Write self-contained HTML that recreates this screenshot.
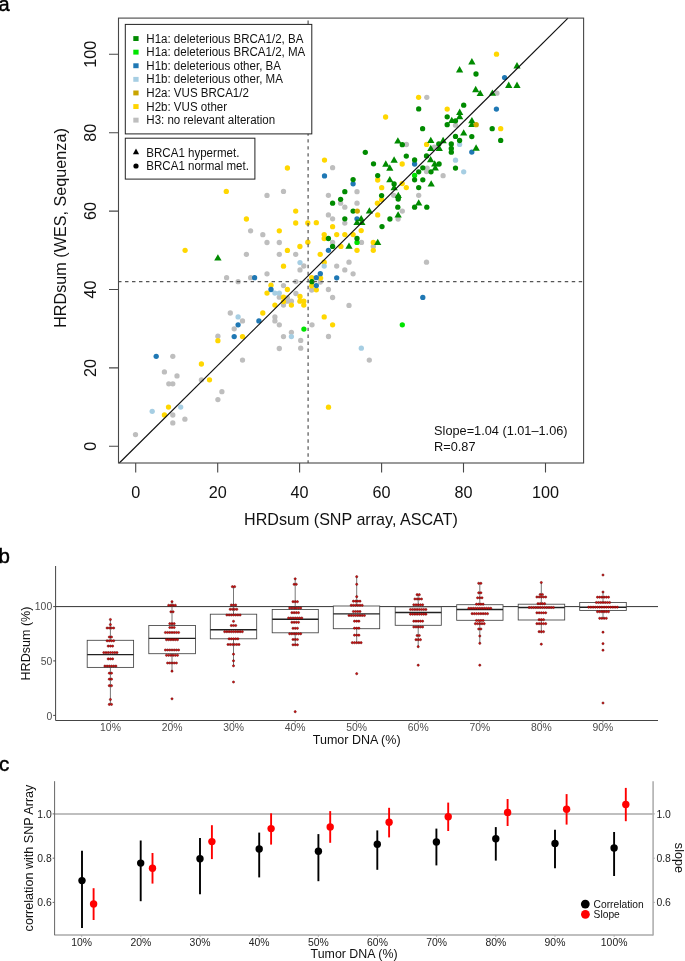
<!DOCTYPE html>
<html><head><meta charset="utf-8">
<style>
html,body{margin:0;padding:0;background:#fff;}
svg{display:block;font-family:"Liberation Sans",sans-serif;will-change:transform;}
</style></head>
<body>
<svg width="685" height="961" viewBox="0 0 685 961">
<rect width="685" height="961" fill="#fff"/>
<!-- ===== Panel a ===== -->
<text x="-1.6" y="10.7" font-size="20" fill="#000" stroke="#000" stroke-width="0.45">a</text>
<g id="pts">
<circle cx="496.9" cy="93.2" r="2.65" fill="#bebebe"/>
<circle cx="426.8" cy="97.3" r="2.65" fill="#bebebe"/>
<circle cx="455.5" cy="125.2" r="2.65" fill="#bebebe"/>
<circle cx="434.4" cy="147.2" r="2.65" fill="#bebebe"/>
<circle cx="427.1" cy="168.1" r="2.65" fill="#bebebe"/>
<circle cx="426.5" cy="171.6" r="2.65" fill="#bebebe"/>
<circle cx="443.1" cy="175.7" r="2.65" fill="#bebebe"/>
<circle cx="418.7" cy="195.3" r="2.65" fill="#bebebe"/>
<circle cx="406.4" cy="144.5" r="2.65" fill="#bebebe"/>
<circle cx="332.6" cy="167.7" r="2.65" fill="#bebebe"/>
<circle cx="357.0" cy="191.7" r="2.65" fill="#bebebe"/>
<circle cx="328.4" cy="195.3" r="2.65" fill="#bebebe"/>
<circle cx="393.7" cy="195.3" r="2.65" fill="#bebebe"/>
<circle cx="340.6" cy="203.2" r="2.65" fill="#bebebe"/>
<circle cx="357.0" cy="203.2" r="2.65" fill="#bebebe"/>
<circle cx="344.8" cy="207.2" r="2.65" fill="#bebebe"/>
<circle cx="402.3" cy="211.1" r="2.65" fill="#bebebe"/>
<circle cx="398.1" cy="219.0" r="2.65" fill="#bebebe"/>
<circle cx="328.4" cy="214.9" r="2.65" fill="#bebebe"/>
<circle cx="332.6" cy="218.8" r="2.65" fill="#bebebe"/>
<circle cx="344.8" cy="223.1" r="2.65" fill="#bebebe"/>
<circle cx="332.6" cy="242.4" r="2.65" fill="#bebebe"/>
<circle cx="361.5" cy="242.4" r="2.65" fill="#bebebe"/>
<circle cx="373.3" cy="246.4" r="2.65" fill="#bebebe"/>
<circle cx="349.0" cy="262.2" r="2.65" fill="#bebebe"/>
<circle cx="336.7" cy="266.1" r="2.65" fill="#bebebe"/>
<circle cx="426.5" cy="262.2" r="2.65" fill="#bebebe"/>
<circle cx="344.8" cy="269.9" r="2.65" fill="#bebebe"/>
<circle cx="353.1" cy="273.8" r="2.65" fill="#bebebe"/>
<circle cx="320.3" cy="282.0" r="2.65" fill="#bebebe"/>
<circle cx="311.7" cy="290.0" r="2.65" fill="#bebebe"/>
<circle cx="328.4" cy="289.5" r="2.65" fill="#bebebe"/>
<circle cx="332.6" cy="297.5" r="2.65" fill="#bebebe"/>
<circle cx="349.0" cy="305.4" r="2.65" fill="#bebebe"/>
<circle cx="312.0" cy="324.8" r="2.65" fill="#bebebe"/>
<circle cx="303.8" cy="266.0" r="2.65" fill="#bebebe"/>
<circle cx="300.0" cy="269.9" r="2.65" fill="#bebebe"/>
<circle cx="295.9" cy="281.6" r="2.65" fill="#bebebe"/>
<circle cx="295.9" cy="293.5" r="2.65" fill="#bebebe"/>
<circle cx="328.5" cy="336.5" r="2.65" fill="#bebebe"/>
<circle cx="300.7" cy="340.4" r="2.65" fill="#bebebe"/>
<circle cx="300.7" cy="348.2" r="2.65" fill="#bebebe"/>
<circle cx="369.3" cy="360.1" r="2.65" fill="#bebebe"/>
<circle cx="267.0" cy="195.4" r="2.65" fill="#bebebe"/>
<circle cx="283.5" cy="191.4" r="2.65" fill="#bebebe"/>
<circle cx="250.6" cy="230.8" r="2.65" fill="#bebebe"/>
<circle cx="262.8" cy="234.7" r="2.65" fill="#bebebe"/>
<circle cx="267.0" cy="242.5" r="2.65" fill="#bebebe"/>
<circle cx="279.3" cy="242.5" r="2.65" fill="#bebebe"/>
<circle cx="246.4" cy="254.3" r="2.65" fill="#bebebe"/>
<circle cx="279.3" cy="254.3" r="2.65" fill="#bebebe"/>
<circle cx="295.7" cy="254.3" r="2.65" fill="#bebebe"/>
<circle cx="267.0" cy="273.8" r="2.65" fill="#bebebe"/>
<circle cx="226.6" cy="277.7" r="2.65" fill="#bebebe"/>
<circle cx="250.6" cy="277.7" r="2.65" fill="#bebebe"/>
<circle cx="238.1" cy="281.7" r="2.65" fill="#bebebe"/>
<circle cx="283.5" cy="285.6" r="2.65" fill="#bebebe"/>
<circle cx="279.3" cy="297.2" r="2.65" fill="#bebebe"/>
<circle cx="287.4" cy="297.9" r="2.65" fill="#bebebe"/>
<circle cx="287.4" cy="301.2" r="2.65" fill="#bebebe"/>
<circle cx="291.4" cy="301.2" r="2.65" fill="#bebebe"/>
<circle cx="283.5" cy="305.1" r="2.65" fill="#bebebe"/>
<circle cx="230.3" cy="313.0" r="2.65" fill="#bebebe"/>
<circle cx="274.9" cy="316.9" r="2.65" fill="#bebebe"/>
<circle cx="242.5" cy="320.9" r="2.65" fill="#bebebe"/>
<circle cx="274.9" cy="320.9" r="2.65" fill="#bebebe"/>
<circle cx="279.3" cy="324.8" r="2.65" fill="#bebebe"/>
<circle cx="234.2" cy="328.8" r="2.65" fill="#bebebe"/>
<circle cx="291.4" cy="332.3" r="2.65" fill="#bebebe"/>
<circle cx="283.5" cy="336.6" r="2.65" fill="#bebebe"/>
<circle cx="279.3" cy="348.5" r="2.65" fill="#bebebe"/>
<circle cx="172.8" cy="356.3" r="2.65" fill="#bebebe"/>
<circle cx="164.4" cy="371.9" r="2.65" fill="#bebebe"/>
<circle cx="177.0" cy="375.9" r="2.65" fill="#bebebe"/>
<circle cx="168.8" cy="383.8" r="2.65" fill="#bebebe"/>
<circle cx="172.8" cy="383.8" r="2.65" fill="#bebebe"/>
<circle cx="201.4" cy="379.8" r="2.65" fill="#bebebe"/>
<circle cx="221.9" cy="391.7" r="2.65" fill="#bebebe"/>
<circle cx="217.9" cy="399.6" r="2.65" fill="#bebebe"/>
<circle cx="172.8" cy="415.0" r="2.65" fill="#bebebe"/>
<circle cx="184.9" cy="419.2" r="2.65" fill="#bebebe"/>
<circle cx="172.8" cy="422.9" r="2.65" fill="#bebebe"/>
<circle cx="135.5" cy="434.6" r="2.65" fill="#bebebe"/>
<circle cx="217.9" cy="336.2" r="2.65" fill="#bebebe"/>
<circle cx="242.5" cy="360.1" r="2.65" fill="#bebebe"/>
<circle cx="459.6" cy="144.4" r="2.65" fill="#a6cee3"/>
<circle cx="455.5" cy="160.2" r="2.65" fill="#a6cee3"/>
<circle cx="463.7" cy="171.8" r="2.65" fill="#a6cee3"/>
<circle cx="300.0" cy="262.6" r="2.65" fill="#a6cee3"/>
<circle cx="361.3" cy="348.2" r="2.65" fill="#a6cee3"/>
<circle cx="274.9" cy="293.1" r="2.65" fill="#a6cee3"/>
<circle cx="279.3" cy="293.1" r="2.65" fill="#a6cee3"/>
<circle cx="238.1" cy="316.9" r="2.65" fill="#a6cee3"/>
<circle cx="291.4" cy="336.6" r="2.65" fill="#a6cee3"/>
<circle cx="180.7" cy="407.1" r="2.65" fill="#a6cee3"/>
<circle cx="152.2" cy="411.3" r="2.65" fill="#a6cee3"/>
<circle cx="496.5" cy="54.2" r="2.65" fill="#ffd700"/>
<circle cx="418.6" cy="97.3" r="2.65" fill="#ffd700"/>
<circle cx="447.2" cy="109.1" r="2.65" fill="#ffd700"/>
<circle cx="500.7" cy="128.7" r="2.65" fill="#ffd700"/>
<circle cx="426.6" cy="144.4" r="2.65" fill="#ffd700"/>
<circle cx="402.2" cy="164.0" r="2.65" fill="#ffd700"/>
<circle cx="402.2" cy="183.6" r="2.65" fill="#ffd700"/>
<circle cx="406.3" cy="187.6" r="2.65" fill="#ffd700"/>
<circle cx="385.6" cy="117.0" r="2.65" fill="#ffd700"/>
<circle cx="324.5" cy="160.1" r="2.65" fill="#ffd700"/>
<circle cx="377.7" cy="180.0" r="2.65" fill="#ffd700"/>
<circle cx="381.7" cy="187.7" r="2.65" fill="#ffd700"/>
<circle cx="381.6" cy="199.7" r="2.65" fill="#ffd700"/>
<circle cx="377.4" cy="203.2" r="2.65" fill="#ffd700"/>
<circle cx="377.7" cy="214.9" r="2.65" fill="#ffd700"/>
<circle cx="316.3" cy="222.7" r="2.65" fill="#ffd700"/>
<circle cx="332.6" cy="226.7" r="2.65" fill="#ffd700"/>
<circle cx="361.2" cy="230.6" r="2.65" fill="#ffd700"/>
<circle cx="324.2" cy="234.6" r="2.65" fill="#ffd700"/>
<circle cx="336.7" cy="234.6" r="2.65" fill="#ffd700"/>
<circle cx="344.8" cy="234.6" r="2.65" fill="#ffd700"/>
<circle cx="353.1" cy="234.6" r="2.65" fill="#ffd700"/>
<circle cx="324.2" cy="238.5" r="2.65" fill="#ffd700"/>
<circle cx="373.3" cy="242.4" r="2.65" fill="#ffd700"/>
<circle cx="340.9" cy="246.4" r="2.65" fill="#ffd700"/>
<circle cx="357.0" cy="250.3" r="2.65" fill="#ffd700"/>
<circle cx="373.3" cy="250.3" r="2.65" fill="#ffd700"/>
<circle cx="320.2" cy="254.3" r="2.65" fill="#ffd700"/>
<circle cx="324.2" cy="262.2" r="2.65" fill="#ffd700"/>
<circle cx="320.6" cy="278.1" r="2.65" fill="#ffd700"/>
<circle cx="311.7" cy="277.6" r="2.65" fill="#ffd700"/>
<circle cx="311.7" cy="285.8" r="2.65" fill="#ffd700"/>
<circle cx="316.3" cy="289.8" r="2.65" fill="#ffd700"/>
<circle cx="324.2" cy="316.9" r="2.65" fill="#ffd700"/>
<circle cx="332.6" cy="324.8" r="2.65" fill="#ffd700"/>
<circle cx="300.0" cy="296.5" r="2.65" fill="#ffd700"/>
<circle cx="328.5" cy="407.2" r="2.65" fill="#ffd700"/>
<circle cx="226.3" cy="191.4" r="2.65" fill="#ffd700"/>
<circle cx="295.7" cy="211.1" r="2.65" fill="#ffd700"/>
<circle cx="246.4" cy="219.0" r="2.65" fill="#ffd700"/>
<circle cx="295.7" cy="223.0" r="2.65" fill="#ffd700"/>
<circle cx="307.8" cy="223.0" r="2.65" fill="#ffd700"/>
<circle cx="279.3" cy="230.8" r="2.65" fill="#ffd700"/>
<circle cx="307.8" cy="242.2" r="2.65" fill="#ffd700"/>
<circle cx="299.9" cy="246.5" r="2.65" fill="#ffd700"/>
<circle cx="287.4" cy="250.4" r="2.65" fill="#ffd700"/>
<circle cx="283.5" cy="266.2" r="2.65" fill="#ffd700"/>
<circle cx="271.0" cy="285.2" r="2.65" fill="#ffd700"/>
<circle cx="287.4" cy="289.5" r="2.65" fill="#ffd700"/>
<circle cx="267.0" cy="293.1" r="2.65" fill="#ffd700"/>
<circle cx="283.5" cy="297.2" r="2.65" fill="#ffd700"/>
<circle cx="283.5" cy="301.6" r="2.65" fill="#ffd700"/>
<circle cx="299.9" cy="301.2" r="2.65" fill="#ffd700"/>
<circle cx="303.8" cy="301.2" r="2.65" fill="#ffd700"/>
<circle cx="274.9" cy="305.1" r="2.65" fill="#ffd700"/>
<circle cx="291.4" cy="305.1" r="2.65" fill="#ffd700"/>
<circle cx="303.8" cy="305.1" r="2.65" fill="#ffd700"/>
<circle cx="262.8" cy="313.0" r="2.65" fill="#ffd700"/>
<circle cx="242.5" cy="336.6" r="2.65" fill="#ffd700"/>
<circle cx="217.9" cy="340.7" r="2.65" fill="#ffd700"/>
<circle cx="201.4" cy="364.0" r="2.65" fill="#ffd700"/>
<circle cx="209.5" cy="379.8" r="2.65" fill="#ffd700"/>
<circle cx="168.5" cy="407.1" r="2.65" fill="#ffd700"/>
<circle cx="164.4" cy="415.0" r="2.65" fill="#ffd700"/>
<circle cx="185.1" cy="250.3" r="2.65" fill="#ffd700"/>
<circle cx="287.4" cy="168.0" r="2.65" fill="#ffd700"/>
<circle cx="504.6" cy="77.6" r="2.65" fill="#1f78b4"/>
<circle cx="471.8" cy="152.1" r="2.65" fill="#1f78b4"/>
<circle cx="496.4" cy="109.1" r="2.65" fill="#1f78b4"/>
<circle cx="414.6" cy="164.0" r="2.65" fill="#1f78b4"/>
<circle cx="324.5" cy="175.9" r="2.65" fill="#1f78b4"/>
<circle cx="353.1" cy="183.8" r="2.65" fill="#1f78b4"/>
<circle cx="357.0" cy="218.8" r="2.65" fill="#1f78b4"/>
<circle cx="328.4" cy="250.3" r="2.65" fill="#1f78b4"/>
<circle cx="422.8" cy="297.4" r="2.65" fill="#1f78b4"/>
<circle cx="320.3" cy="273.7" r="2.65" fill="#1f78b4"/>
<circle cx="316.3" cy="277.7" r="2.65" fill="#1f78b4"/>
<circle cx="336.7" cy="277.8" r="2.65" fill="#1f78b4"/>
<circle cx="316.3" cy="285.6" r="2.65" fill="#1f78b4"/>
<circle cx="254.6" cy="277.7" r="2.65" fill="#1f78b4"/>
<circle cx="271.0" cy="289.5" r="2.65" fill="#1f78b4"/>
<circle cx="258.9" cy="320.9" r="2.65" fill="#1f78b4"/>
<circle cx="238.1" cy="324.8" r="2.65" fill="#1f78b4"/>
<circle cx="234.2" cy="336.6" r="2.65" fill="#1f78b4"/>
<circle cx="156.2" cy="356.3" r="2.65" fill="#1f78b4"/>
<circle cx="414.6" cy="175.5" r="2.65" fill="#00e400"/>
<circle cx="357.0" cy="242.4" r="2.65" fill="#00e400"/>
<circle cx="402.3" cy="324.8" r="2.65" fill="#00e400"/>
<circle cx="303.9" cy="329.1" r="2.65" fill="#00e400"/>
<path d="M471.9 58.1L475.5 64.4H468.2Z" fill="#008b00"/>
<path d="M459.6 66.0L463.2 72.4H456.0Z" fill="#008b00"/>
<path d="M517.0 62.1L520.6 68.4H513.4Z" fill="#008b00"/>
<circle cx="476.0" cy="74.0" r="2.65" fill="#008b00"/>
<path d="M508.7 81.5L512.4 87.9H505.1Z" fill="#008b00"/>
<path d="M517.0 81.5L520.6 87.9H513.4Z" fill="#008b00"/>
<path d="M475.7 85.8L479.3 92.2H472.1Z" fill="#008b00"/>
<path d="M480.2 89.8L483.8 96.1H476.6Z" fill="#008b00"/>
<path d="M492.4 89.4L496.0 95.8H488.8Z" fill="#008b00"/>
<circle cx="418.7" cy="108.9" r="2.65" fill="#008b00"/>
<circle cx="463.7" cy="105.2" r="2.65" fill="#008b00"/>
<path d="M459.7 108.6L463.3 115.0H456.1Z" fill="#008b00"/>
<path d="M459.7 112.9L463.3 119.2H456.1Z" fill="#008b00"/>
<circle cx="447.2" cy="116.8" r="2.65" fill="#008b00"/>
<path d="M451.8 116.8L455.4 123.1H448.2Z" fill="#008b00"/>
<circle cx="455.5" cy="120.8" r="2.65" fill="#008b00"/>
<circle cx="447.2" cy="124.7" r="2.65" fill="#008b00"/>
<path d="M471.9 116.9L475.5 123.2H468.2Z" fill="#008b00"/>
<path d="M471.9 120.8L475.5 127.1H468.2Z" fill="#008b00"/>
<circle cx="422.6" cy="128.7" r="2.65" fill="#008b00"/>
<circle cx="492.2" cy="128.7" r="2.65" fill="#008b00"/>
<path d="M463.7 129.2L467.3 135.5H460.1Z" fill="#008b00"/>
<circle cx="455.5" cy="136.4" r="2.65" fill="#008b00"/>
<circle cx="471.8" cy="136.6" r="2.65" fill="#008b00"/>
<circle cx="459.6" cy="140.5" r="2.65" fill="#008b00"/>
<circle cx="500.7" cy="140.4" r="2.65" fill="#008b00"/>
<path d="M430.8 136.8L434.4 143.1H427.2Z" fill="#008b00"/>
<path d="M443.1 136.8L446.8 143.2H439.5Z" fill="#008b00"/>
<circle cx="438.8" cy="144.0" r="2.65" fill="#008b00"/>
<circle cx="451.3" cy="144.0" r="2.65" fill="#008b00"/>
<path d="M430.8 144.8L434.4 151.1H427.2Z" fill="#008b00"/>
<path d="M439.3 144.8L442.9 151.1H435.7Z" fill="#008b00"/>
<circle cx="451.3" cy="148.4" r="2.65" fill="#008b00"/>
<circle cx="451.3" cy="152.2" r="2.65" fill="#008b00"/>
<path d="M476.1 144.3L479.8 150.7H472.5Z" fill="#008b00"/>
<circle cx="426.5" cy="155.9" r="2.65" fill="#008b00"/>
<circle cx="406.3" cy="156.1" r="2.65" fill="#008b00"/>
<circle cx="414.6" cy="159.9" r="2.65" fill="#008b00"/>
<path d="M430.6 155.9L434.2 162.2H427.0Z" fill="#008b00"/>
<path d="M434.7 160.2L438.3 166.6H431.1Z" fill="#008b00"/>
<circle cx="439.1" cy="164.0" r="2.65" fill="#008b00"/>
<path d="M435.3 164.2L438.9 170.5H431.7Z" fill="#008b00"/>
<circle cx="422.8" cy="167.8" r="2.65" fill="#008b00"/>
<circle cx="418.7" cy="171.8" r="2.65" fill="#008b00"/>
<circle cx="431.0" cy="171.8" r="2.65" fill="#008b00"/>
<circle cx="414.6" cy="179.8" r="2.65" fill="#008b00"/>
<circle cx="422.8" cy="179.8" r="2.65" fill="#008b00"/>
<path d="M431.2 180.2L434.8 186.5H427.6Z" fill="#008b00"/>
<circle cx="418.7" cy="187.6" r="2.65" fill="#008b00"/>
<path d="M418.7 199.2L422.3 205.5H415.1Z" fill="#008b00"/>
<circle cx="414.6" cy="207.2" r="2.65" fill="#008b00"/>
<circle cx="426.8" cy="207.2" r="2.65" fill="#008b00"/>
<circle cx="455.5" cy="168.1" r="2.65" fill="#008b00"/>
<path d="M397.9 137.2L401.5 143.6H394.2Z" fill="#008b00"/>
<circle cx="402.3" cy="144.7" r="2.65" fill="#008b00"/>
<circle cx="365.3" cy="152.3" r="2.65" fill="#008b00"/>
<path d="M394.1 156.3L397.8 162.7H390.5Z" fill="#008b00"/>
<circle cx="373.5" cy="163.8" r="2.65" fill="#008b00"/>
<path d="M385.8 160.3L389.4 166.7H382.2Z" fill="#008b00"/>
<path d="M389.8 164.3L393.4 170.7H386.2Z" fill="#008b00"/>
<circle cx="377.7" cy="175.6" r="2.65" fill="#008b00"/>
<path d="M389.8 176.0L393.4 182.3H386.2Z" fill="#008b00"/>
<circle cx="394.1" cy="183.9" r="2.65" fill="#008b00"/>
<path d="M394.1 184.0L397.8 190.3H390.5Z" fill="#008b00"/>
<circle cx="353.1" cy="179.6" r="2.65" fill="#008b00"/>
<circle cx="344.8" cy="191.7" r="2.65" fill="#008b00"/>
<circle cx="381.6" cy="195.6" r="2.65" fill="#008b00"/>
<path d="M398.3 191.7L401.9 198.0H394.7Z" fill="#008b00"/>
<circle cx="398.3" cy="197.0" r="2.65" fill="#008b00"/>
<circle cx="398.2" cy="199.0" r="2.65" fill="#008b00"/>
<circle cx="340.6" cy="199.3" r="2.65" fill="#008b00"/>
<circle cx="332.6" cy="203.2" r="2.65" fill="#008b00"/>
<circle cx="353.1" cy="211.1" r="2.65" fill="#008b00"/>
<path d="M369.4 207.2L373.0 213.6H365.8Z" fill="#008b00"/>
<circle cx="397.8" cy="207.2" r="2.65" fill="#008b00"/>
<path d="M398.1 211.2L401.8 217.6H394.5Z" fill="#008b00"/>
<circle cx="389.9" cy="219.0" r="2.65" fill="#008b00"/>
<circle cx="382.0" cy="226.6" r="2.65" fill="#008b00"/>
<circle cx="344.8" cy="218.8" r="2.65" fill="#008b00"/>
<path d="M361.2 214.9L364.8 221.2H357.6Z" fill="#008b00"/>
<path d="M357.0 218.7L360.6 225.0H353.4Z" fill="#008b00"/>
<path d="M361.9 218.7L365.5 225.0H358.2Z" fill="#008b00"/>
<circle cx="328.4" cy="238.5" r="2.65" fill="#008b00"/>
<circle cx="357.0" cy="238.5" r="2.65" fill="#008b00"/>
<path d="M377.7 238.7L381.3 245.0H374.1Z" fill="#008b00"/>
<circle cx="332.6" cy="246.4" r="2.65" fill="#008b00"/>
<path d="M349.0 242.5L352.6 248.8H345.4Z" fill="#008b00"/>
<circle cx="311.9" cy="281.7" r="2.65" fill="#008b00"/>
<path d="M217.9 254.2L221.6 260.4H214.2Z" fill="#008b00"/>
<circle cx="476.2" cy="124.7" r="2.65" fill="#d0ab00"/>
<circle cx="357.3" cy="211.1" r="2.65" fill="#d0ab00"/>
<circle cx="324.2" cy="266.1" r="2.65" fill="#a6cee3"/>
</g><!--/pts-->
<g id="a-frame" fill="none" stroke="#222" stroke-width="1.1">
<!-- dashed -->
<line x1="308.1" y1="463" x2="308.1" y2="18.1" stroke="#555" stroke-width="1.2" stroke-dasharray="3.45 3.53" stroke-dashoffset="0.7"/>
<line x1="118.05" y1="281.7" x2="583.6" y2="281.7" stroke="#555" stroke-width="1.2" stroke-dasharray="3.45 3.53"/>
</g>
<g fill="none" stroke="#484848" stroke-width="1.1">
<line x1="119.3" y1="463" x2="568" y2="18.1" stroke="#111" stroke-width="1.15"/>
<rect x="118.5" y="18.1" width="465.1" height="444.9"/>
<path d="M135.7 463v9.5M217.7 463v9.5M299.6 463v9.5M381.6 463v9.5M463.5 463v9.5M545.5 463v9.5"/>
<path d="M118.5 446.3h-9.5M118.5 367.9h-9.5M118.5 289.5h-9.5M118.5 211.1h-9.5M118.5 132.7h-9.5M118.5 54.3h-9.5"/>
</g>
<g font-size="16.2" fill="#111" text-anchor="middle">
<text x="135.7" y="497.9">0</text>
<text x="217.7" y="497.9">20</text>
<text x="299.6" y="497.9">40</text>
<text x="381.6" y="497.9">60</text>
<text x="463.5" y="497.9">80</text>
<text x="545.5" y="497.9">100</text>
<text transform="translate(95.6 446.3) rotate(-90)">0</text>
<text transform="translate(95.6 367.9) rotate(-90)">20</text>
<text transform="translate(95.6 289.5) rotate(-90)">40</text>
<text transform="translate(95.6 211.1) rotate(-90)">60</text>
<text transform="translate(95.6 132.7) rotate(-90)">80</text>
<text transform="translate(95.6 54.3) rotate(-90)">100</text>
</g>
<text x="350.9" y="524.5" font-size="16.1" fill="#111" text-anchor="middle">HRDsum (SNP array, ASCAT)</text>
<text transform="translate(66 228) rotate(-90)" font-size="16.2" fill="#111" text-anchor="middle">HRDsum (WES, Sequenza)</text>
<g font-size="12.75" fill="#111">
<text transform="translate(434.1 435.1) scale(1 1.07)">Slope=1.04 (1.01–1.06)</text>
<text transform="translate(434.1 451) scale(1 1.05)">R=0.87</text>
</g>
<!-- legends -->
<g fill="#fff" stroke="#222" stroke-width="1">
<rect x="125.3" y="24.4" width="186.5" height="109.5"/>
<rect x="125.3" y="138.2" width="129.6" height="40.9"/>
</g>
<g font-size="11.55" fill="#111">
<text transform="translate(146.3 42.6) scale(1 1.1)">H1a: deleterious BRCA1/2, BA</text>
<text transform="translate(146.3 56.2) scale(1 1.1)">H1a: deleterious BRCA1/2, MA</text>
<text transform="translate(146.3 69.8) scale(1 1.1)">H1b: deleterious other, BA</text>
<text transform="translate(146.3 83.4) scale(1 1.1)">H1b: deleterious other, MA</text>
<text transform="translate(146.3 97.0) scale(1 1.1)">H2a: VUS BRCA1/2</text>
<text transform="translate(146.3 110.6) scale(1 1.1)">H2b: VUS other</text>
<text transform="translate(146.3 124.2) scale(1 1.1)">H3: no relevant alteration</text>
<text transform="translate(146.3 156.6) scale(1 1.08)">BRCA1 hypermet.</text>
<text transform="translate(146.3 170) scale(1 1.08)">BRCA1 normal met.</text>
</g>
<g>
<rect x="133.3" y="36.1" width="5.3" height="4.9" fill="#008a00"/>
<rect x="133.3" y="49.7" width="5.3" height="4.9" fill="#00e600"/>
<rect x="133.3" y="63.3" width="5.3" height="4.9" fill="#1f78b4"/>
<rect x="133.3" y="76.9" width="5.3" height="4.9" fill="#a6cee3"/>
<rect x="133.3" y="90.5" width="5.3" height="4.9" fill="#c9a400"/>
<rect x="133.3" y="104.1" width="5.3" height="4.9" fill="#ffd400"/>
<rect x="133.3" y="117.7" width="5.3" height="4.9" fill="#bebebe"/>
<path d="M136 148.6l3.1 5.6h-6.2z" fill="#000"/>
<circle cx="136" cy="166" r="2.6" fill="#000"/>
</g>

<!-- ===== Panel b ===== -->
<text x="-1.5" y="563" font-size="20.5" fill="#000" stroke="#000" stroke-width="0.45">b</text>
<g stroke="#444" stroke-width="1" fill="none">
<line x1="55.6" y1="566" x2="55.6" y2="720.5"/>
<line x1="55.6" y1="720.5" x2="658" y2="720.5"/>
<line x1="55.6" y1="606.6" x2="658" y2="606.6" stroke="#333"/>
<path d="M53.2 715.4h2.4M53.2 660.9h2.4M53.2 606.6h2.4"/>
<path d="M110.5 720.5v2M172.05 720.5v2M233.6 720.5v2M295.15 720.5v2M356.7 720.5v2M418.25 720.5v2M479.8 720.5v2M541.35 720.5v2M602.9 720.5v2" stroke="#777"/>
</g>
<g font-size="10.4" fill="#4d4d4d" text-anchor="end">
<text x="52.2" y="719.7">0</text>
<text x="52.2" y="665">50</text>
<text x="52.2" y="610.3">100</text>
</g>
<g font-size="10.4" fill="#4d4d4d" text-anchor="middle">
<text x="110.5" y="731">10%</text>
<text x="172.05" y="731">20%</text>
<text x="233.6" y="731">30%</text>
<text x="295.15" y="731">40%</text>
<text x="356.7" y="731">50%</text>
<text x="418.25" y="731">60%</text>
<text x="479.8" y="731">70%</text>
<text x="541.35" y="731">80%</text>
<text x="602.9" y="731">90%</text>
</g>
<text x="356.7" y="743.7" font-size="12.5" fill="#111" text-anchor="middle">Tumor DNA (%)</text>
<text transform="translate(30.2 643.5) rotate(-90)" font-size="12.55" fill="#111" text-anchor="middle">HRDsum (%)</text>
<g id="boxes">
<line x1="110.4" y1="619.5" x2="110.4" y2="704.4" stroke="#555" stroke-width="0.8"/>
<rect x="87.2" y="640.3" width="46.4" height="27.1" fill="#fff" stroke="#444" stroke-width="0.85"/>
<line x1="87.2" y1="654.6" x2="133.6" y2="654.6" stroke="#222" stroke-width="1.35"/>
<line x1="172.0" y1="601.7" x2="172.0" y2="671.2" stroke="#555" stroke-width="0.8"/>
<rect x="148.8" y="625.5" width="46.7" height="28.2" fill="#fff" stroke="#444" stroke-width="0.85"/>
<line x1="148.8" y1="638.3" x2="195.5" y2="638.3" stroke="#222" stroke-width="1.35"/>
<line x1="233.5" y1="586.7" x2="233.5" y2="665.8" stroke="#555" stroke-width="0.8"/>
<rect x="210.3" y="614.2" width="46.4" height="24.6" fill="#fff" stroke="#444" stroke-width="0.85"/>
<line x1="210.3" y1="629.7" x2="256.7" y2="629.7" stroke="#222" stroke-width="1.35"/>
<line x1="295.2" y1="578.8" x2="295.2" y2="645.0" stroke="#555" stroke-width="0.8"/>
<rect x="272.2" y="609.5" width="46.1" height="23.3" fill="#fff" stroke="#444" stroke-width="0.85"/>
<line x1="272.2" y1="619.2" x2="318.3" y2="619.2" stroke="#222" stroke-width="1.35"/>
<line x1="356.7" y1="576.7" x2="356.7" y2="642.8" stroke="#555" stroke-width="0.8"/>
<rect x="333.3" y="606.0" width="46.4" height="22.7" fill="#fff" stroke="#444" stroke-width="0.85"/>
<line x1="333.3" y1="613.8" x2="379.7" y2="613.8" stroke="#222" stroke-width="1.35"/>
<line x1="418.2" y1="594.7" x2="418.2" y2="646.7" stroke="#555" stroke-width="0.8"/>
<rect x="395.2" y="606.9" width="46.1" height="18.4" fill="#fff" stroke="#444" stroke-width="0.85"/>
<line x1="395.2" y1="612.5" x2="441.3" y2="612.5" stroke="#222" stroke-width="1.35"/>
<line x1="479.8" y1="583.3" x2="479.8" y2="643.3" stroke="#555" stroke-width="0.8"/>
<rect x="456.7" y="604.7" width="46.3" height="15.6" fill="#fff" stroke="#444" stroke-width="0.85"/>
<line x1="456.7" y1="609.5" x2="503.0" y2="609.5" stroke="#222" stroke-width="1.35"/>
<line x1="541.3" y1="582.5" x2="541.3" y2="633.3" stroke="#555" stroke-width="0.8"/>
<rect x="518.2" y="604.2" width="46.5" height="15.8" fill="#fff" stroke="#444" stroke-width="0.85"/>
<line x1="518.2" y1="607.5" x2="564.7" y2="607.5" stroke="#222" stroke-width="1.35"/>
<line x1="603.0" y1="592.0" x2="603.0" y2="618.3" stroke="#555" stroke-width="0.8"/>
<rect x="579.7" y="602.5" width="46.6" height="8.0" fill="#fff" stroke="#444" stroke-width="0.85"/>
<line x1="579.7" y1="607.2" x2="626.3" y2="607.2" stroke="#222" stroke-width="1.35"/>
</g>
<g id="bdots" fill="#d81010" stroke="#5a0000" stroke-width="0.5">
<circle cx="110.40" cy="619.5" r="1.1"/>
<circle cx="110.40" cy="624.6" r="1.1"/>
<circle cx="107.10" cy="628" r="1.1"/>
<circle cx="109.30" cy="628" r="1.1"/>
<circle cx="111.50" cy="628" r="1.1"/>
<circle cx="113.70" cy="628" r="1.1"/>
<circle cx="109.30" cy="637" r="1.1"/>
<circle cx="111.50" cy="637" r="1.1"/>
<circle cx="107.10" cy="640.8" r="1.1"/>
<circle cx="109.30" cy="640.8" r="1.1"/>
<circle cx="111.50" cy="640.8" r="1.1"/>
<circle cx="113.70" cy="640.8" r="1.1"/>
<circle cx="108.20" cy="646.1" r="1.1"/>
<circle cx="110.40" cy="646.1" r="1.1"/>
<circle cx="112.60" cy="646.1" r="1.1"/>
<circle cx="103.80" cy="652.6" r="1.1"/>
<circle cx="106.00" cy="652.6" r="1.1"/>
<circle cx="108.20" cy="652.6" r="1.1"/>
<circle cx="110.40" cy="652.6" r="1.1"/>
<circle cx="112.60" cy="652.6" r="1.1"/>
<circle cx="114.80" cy="652.6" r="1.1"/>
<circle cx="117.00" cy="652.6" r="1.1"/>
<circle cx="108.20" cy="658.9" r="1.1"/>
<circle cx="110.40" cy="658.9" r="1.1"/>
<circle cx="112.60" cy="658.9" r="1.1"/>
<circle cx="104.90" cy="666.1" r="1.1"/>
<circle cx="107.10" cy="666.1" r="1.1"/>
<circle cx="109.30" cy="666.1" r="1.1"/>
<circle cx="111.50" cy="666.1" r="1.1"/>
<circle cx="113.70" cy="666.1" r="1.1"/>
<circle cx="115.90" cy="666.1" r="1.1"/>
<circle cx="109.30" cy="673.2" r="1.1"/>
<circle cx="111.50" cy="673.2" r="1.1"/>
<circle cx="109.30" cy="679.2" r="1.1"/>
<circle cx="111.50" cy="679.2" r="1.1"/>
<circle cx="109.30" cy="685.7" r="1.1"/>
<circle cx="111.50" cy="685.7" r="1.1"/>
<circle cx="110.40" cy="699.5" r="1.1"/>
<circle cx="109.30" cy="704.4" r="1.1"/>
<circle cx="111.50" cy="704.4" r="1.1"/>
<circle cx="172.00" cy="601.7" r="1.1"/>
<circle cx="168.70" cy="605.3" r="1.1"/>
<circle cx="170.90" cy="605.3" r="1.1"/>
<circle cx="173.10" cy="605.3" r="1.1"/>
<circle cx="175.30" cy="605.3" r="1.1"/>
<circle cx="170.90" cy="611.8" r="1.1"/>
<circle cx="173.10" cy="611.8" r="1.1"/>
<circle cx="169.80" cy="623.7" r="1.1"/>
<circle cx="172.00" cy="623.7" r="1.1"/>
<circle cx="174.20" cy="623.7" r="1.1"/>
<circle cx="169.80" cy="627.5" r="1.1"/>
<circle cx="172.00" cy="627.5" r="1.1"/>
<circle cx="174.20" cy="627.5" r="1.1"/>
<circle cx="165.40" cy="632.5" r="1.1"/>
<circle cx="167.60" cy="632.5" r="1.1"/>
<circle cx="169.80" cy="632.5" r="1.1"/>
<circle cx="172.00" cy="632.5" r="1.1"/>
<circle cx="174.20" cy="632.5" r="1.1"/>
<circle cx="176.40" cy="632.5" r="1.1"/>
<circle cx="178.60" cy="632.5" r="1.1"/>
<circle cx="166.50" cy="639.7" r="1.1"/>
<circle cx="168.70" cy="639.7" r="1.1"/>
<circle cx="170.90" cy="639.7" r="1.1"/>
<circle cx="173.10" cy="639.7" r="1.1"/>
<circle cx="175.30" cy="639.7" r="1.1"/>
<circle cx="177.50" cy="639.7" r="1.1"/>
<circle cx="165.40" cy="650" r="1.1"/>
<circle cx="167.60" cy="650" r="1.1"/>
<circle cx="169.80" cy="650" r="1.1"/>
<circle cx="172.00" cy="650" r="1.1"/>
<circle cx="174.20" cy="650" r="1.1"/>
<circle cx="176.40" cy="650" r="1.1"/>
<circle cx="178.60" cy="650" r="1.1"/>
<circle cx="166.50" cy="655.3" r="1.1"/>
<circle cx="168.70" cy="655.3" r="1.1"/>
<circle cx="170.90" cy="655.3" r="1.1"/>
<circle cx="173.10" cy="655.3" r="1.1"/>
<circle cx="175.30" cy="655.3" r="1.1"/>
<circle cx="177.50" cy="655.3" r="1.1"/>
<circle cx="167.60" cy="663" r="1.1"/>
<circle cx="169.80" cy="663" r="1.1"/>
<circle cx="172.00" cy="663" r="1.1"/>
<circle cx="174.20" cy="663" r="1.1"/>
<circle cx="176.40" cy="663" r="1.1"/>
<circle cx="172.00" cy="671.2" r="1.1"/>
<circle cx="172.00" cy="698.8" r="1.1"/>
<circle cx="232.40" cy="586.7" r="1.1"/>
<circle cx="234.60" cy="586.7" r="1.1"/>
<circle cx="231.30" cy="605" r="1.1"/>
<circle cx="233.50" cy="605" r="1.1"/>
<circle cx="235.70" cy="605" r="1.1"/>
<circle cx="230.20" cy="609.3" r="1.1"/>
<circle cx="232.40" cy="609.3" r="1.1"/>
<circle cx="234.60" cy="609.3" r="1.1"/>
<circle cx="236.80" cy="609.3" r="1.1"/>
<circle cx="226.90" cy="615" r="1.1"/>
<circle cx="229.10" cy="615" r="1.1"/>
<circle cx="231.30" cy="615" r="1.1"/>
<circle cx="233.50" cy="615" r="1.1"/>
<circle cx="235.70" cy="615" r="1.1"/>
<circle cx="237.90" cy="615" r="1.1"/>
<circle cx="240.10" cy="615" r="1.1"/>
<circle cx="233.50" cy="621.3" r="1.1"/>
<circle cx="231.30" cy="625.5" r="1.1"/>
<circle cx="233.50" cy="625.5" r="1.1"/>
<circle cx="235.70" cy="625.5" r="1.1"/>
<circle cx="224.70" cy="631.7" r="1.1"/>
<circle cx="226.90" cy="631.7" r="1.1"/>
<circle cx="229.10" cy="631.7" r="1.1"/>
<circle cx="231.30" cy="631.7" r="1.1"/>
<circle cx="233.50" cy="631.7" r="1.1"/>
<circle cx="235.70" cy="631.7" r="1.1"/>
<circle cx="237.90" cy="631.7" r="1.1"/>
<circle cx="240.10" cy="631.7" r="1.1"/>
<circle cx="242.30" cy="631.7" r="1.1"/>
<circle cx="229.10" cy="638.8" r="1.1"/>
<circle cx="231.30" cy="638.8" r="1.1"/>
<circle cx="233.50" cy="638.8" r="1.1"/>
<circle cx="235.70" cy="638.8" r="1.1"/>
<circle cx="237.90" cy="638.8" r="1.1"/>
<circle cx="228.00" cy="644.5" r="1.1"/>
<circle cx="230.20" cy="644.5" r="1.1"/>
<circle cx="232.40" cy="644.5" r="1.1"/>
<circle cx="234.60" cy="644.5" r="1.1"/>
<circle cx="236.80" cy="644.5" r="1.1"/>
<circle cx="239.00" cy="644.5" r="1.1"/>
<circle cx="233.50" cy="654.2" r="1.1"/>
<circle cx="233.50" cy="660.8" r="1.1"/>
<circle cx="233.50" cy="665.8" r="1.1"/>
<circle cx="233.50" cy="682" r="1.1"/>
<circle cx="295.20" cy="578.8" r="1.1"/>
<circle cx="294.10" cy="584.3" r="1.1"/>
<circle cx="296.30" cy="584.3" r="1.1"/>
<circle cx="293.00" cy="601.7" r="1.1"/>
<circle cx="295.20" cy="601.7" r="1.1"/>
<circle cx="297.40" cy="601.7" r="1.1"/>
<circle cx="289.70" cy="608" r="1.1"/>
<circle cx="291.90" cy="608" r="1.1"/>
<circle cx="294.10" cy="608" r="1.1"/>
<circle cx="296.30" cy="608" r="1.1"/>
<circle cx="298.50" cy="608" r="1.1"/>
<circle cx="300.70" cy="608" r="1.1"/>
<circle cx="291.90" cy="612.7" r="1.1"/>
<circle cx="294.10" cy="612.7" r="1.1"/>
<circle cx="296.30" cy="612.7" r="1.1"/>
<circle cx="298.50" cy="612.7" r="1.1"/>
<circle cx="288.60" cy="618" r="1.1"/>
<circle cx="290.80" cy="618" r="1.1"/>
<circle cx="293.00" cy="618" r="1.1"/>
<circle cx="295.20" cy="618" r="1.1"/>
<circle cx="297.40" cy="618" r="1.1"/>
<circle cx="299.60" cy="618" r="1.1"/>
<circle cx="301.80" cy="618" r="1.1"/>
<circle cx="291.90" cy="622.3" r="1.1"/>
<circle cx="294.10" cy="622.3" r="1.1"/>
<circle cx="296.30" cy="622.3" r="1.1"/>
<circle cx="298.50" cy="622.3" r="1.1"/>
<circle cx="293.00" cy="628.3" r="1.1"/>
<circle cx="295.20" cy="628.3" r="1.1"/>
<circle cx="297.40" cy="628.3" r="1.1"/>
<circle cx="289.70" cy="633.8" r="1.1"/>
<circle cx="291.90" cy="633.8" r="1.1"/>
<circle cx="294.10" cy="633.8" r="1.1"/>
<circle cx="296.30" cy="633.8" r="1.1"/>
<circle cx="298.50" cy="633.8" r="1.1"/>
<circle cx="300.70" cy="633.8" r="1.1"/>
<circle cx="293.00" cy="639.5" r="1.1"/>
<circle cx="295.20" cy="639.5" r="1.1"/>
<circle cx="297.40" cy="639.5" r="1.1"/>
<circle cx="293.00" cy="644.8" r="1.1"/>
<circle cx="295.20" cy="644.8" r="1.1"/>
<circle cx="297.40" cy="644.8" r="1.1"/>
<circle cx="295.20" cy="711.7" r="1.1"/>
<circle cx="356.70" cy="576.7" r="1.1"/>
<circle cx="356.70" cy="584.3" r="1.1"/>
<circle cx="356.70" cy="596.7" r="1.1"/>
<circle cx="353.40" cy="601.2" r="1.1"/>
<circle cx="355.60" cy="601.2" r="1.1"/>
<circle cx="357.80" cy="601.2" r="1.1"/>
<circle cx="360.00" cy="601.2" r="1.1"/>
<circle cx="351.20" cy="605.3" r="1.1"/>
<circle cx="353.40" cy="605.3" r="1.1"/>
<circle cx="355.60" cy="605.3" r="1.1"/>
<circle cx="357.80" cy="605.3" r="1.1"/>
<circle cx="360.00" cy="605.3" r="1.1"/>
<circle cx="362.20" cy="605.3" r="1.1"/>
<circle cx="353.40" cy="611.5" r="1.1"/>
<circle cx="355.60" cy="611.5" r="1.1"/>
<circle cx="357.80" cy="611.5" r="1.1"/>
<circle cx="360.00" cy="611.5" r="1.1"/>
<circle cx="349.00" cy="615.5" r="1.1"/>
<circle cx="351.20" cy="615.5" r="1.1"/>
<circle cx="353.40" cy="615.5" r="1.1"/>
<circle cx="355.60" cy="615.5" r="1.1"/>
<circle cx="357.80" cy="615.5" r="1.1"/>
<circle cx="360.00" cy="615.5" r="1.1"/>
<circle cx="362.20" cy="615.5" r="1.1"/>
<circle cx="364.40" cy="615.5" r="1.1"/>
<circle cx="354.50" cy="621.2" r="1.1"/>
<circle cx="356.70" cy="621.2" r="1.1"/>
<circle cx="358.90" cy="621.2" r="1.1"/>
<circle cx="354.50" cy="628.2" r="1.1"/>
<circle cx="356.70" cy="628.2" r="1.1"/>
<circle cx="358.90" cy="628.2" r="1.1"/>
<circle cx="354.50" cy="635.2" r="1.1"/>
<circle cx="356.70" cy="635.2" r="1.1"/>
<circle cx="358.90" cy="635.2" r="1.1"/>
<circle cx="352.30" cy="642.7" r="1.1"/>
<circle cx="354.50" cy="642.7" r="1.1"/>
<circle cx="356.70" cy="642.7" r="1.1"/>
<circle cx="358.90" cy="642.7" r="1.1"/>
<circle cx="361.10" cy="642.7" r="1.1"/>
<circle cx="356.70" cy="673.7" r="1.1"/>
<circle cx="417.10" cy="594.7" r="1.1"/>
<circle cx="419.30" cy="594.7" r="1.1"/>
<circle cx="414.90" cy="599" r="1.1"/>
<circle cx="417.10" cy="599" r="1.1"/>
<circle cx="419.30" cy="599" r="1.1"/>
<circle cx="421.50" cy="599" r="1.1"/>
<circle cx="413.80" cy="604.8" r="1.1"/>
<circle cx="416.00" cy="604.8" r="1.1"/>
<circle cx="418.20" cy="604.8" r="1.1"/>
<circle cx="420.40" cy="604.8" r="1.1"/>
<circle cx="422.60" cy="604.8" r="1.1"/>
<circle cx="410.50" cy="609.5" r="1.1"/>
<circle cx="412.70" cy="609.5" r="1.1"/>
<circle cx="414.90" cy="609.5" r="1.1"/>
<circle cx="417.10" cy="609.5" r="1.1"/>
<circle cx="419.30" cy="609.5" r="1.1"/>
<circle cx="421.50" cy="609.5" r="1.1"/>
<circle cx="423.70" cy="609.5" r="1.1"/>
<circle cx="425.90" cy="609.5" r="1.1"/>
<circle cx="410.50" cy="614.2" r="1.1"/>
<circle cx="412.70" cy="614.2" r="1.1"/>
<circle cx="414.90" cy="614.2" r="1.1"/>
<circle cx="417.10" cy="614.2" r="1.1"/>
<circle cx="419.30" cy="614.2" r="1.1"/>
<circle cx="421.50" cy="614.2" r="1.1"/>
<circle cx="423.70" cy="614.2" r="1.1"/>
<circle cx="425.90" cy="614.2" r="1.1"/>
<circle cx="413.80" cy="621.2" r="1.1"/>
<circle cx="416.00" cy="621.2" r="1.1"/>
<circle cx="418.20" cy="621.2" r="1.1"/>
<circle cx="420.40" cy="621.2" r="1.1"/>
<circle cx="422.60" cy="621.2" r="1.1"/>
<circle cx="413.80" cy="627" r="1.1"/>
<circle cx="416.00" cy="627" r="1.1"/>
<circle cx="418.20" cy="627" r="1.1"/>
<circle cx="420.40" cy="627" r="1.1"/>
<circle cx="422.60" cy="627" r="1.1"/>
<circle cx="417.10" cy="635.5" r="1.1"/>
<circle cx="419.30" cy="635.5" r="1.1"/>
<circle cx="416.00" cy="639.7" r="1.1"/>
<circle cx="418.20" cy="639.7" r="1.1"/>
<circle cx="420.40" cy="639.7" r="1.1"/>
<circle cx="418.20" cy="646.7" r="1.1"/>
<circle cx="418.20" cy="665.2" r="1.1"/>
<circle cx="478.70" cy="583.3" r="1.1"/>
<circle cx="480.90" cy="583.3" r="1.1"/>
<circle cx="478.70" cy="592.8" r="1.1"/>
<circle cx="480.90" cy="592.8" r="1.1"/>
<circle cx="477.60" cy="597.8" r="1.1"/>
<circle cx="479.80" cy="597.8" r="1.1"/>
<circle cx="482.00" cy="597.8" r="1.1"/>
<circle cx="476.50" cy="604.2" r="1.1"/>
<circle cx="478.70" cy="604.2" r="1.1"/>
<circle cx="480.90" cy="604.2" r="1.1"/>
<circle cx="483.10" cy="604.2" r="1.1"/>
<circle cx="468.80" cy="608.3" r="1.1"/>
<circle cx="471.00" cy="608.3" r="1.1"/>
<circle cx="473.20" cy="608.3" r="1.1"/>
<circle cx="475.40" cy="608.3" r="1.1"/>
<circle cx="477.60" cy="608.3" r="1.1"/>
<circle cx="479.80" cy="608.3" r="1.1"/>
<circle cx="482.00" cy="608.3" r="1.1"/>
<circle cx="484.20" cy="608.3" r="1.1"/>
<circle cx="486.40" cy="608.3" r="1.1"/>
<circle cx="488.60" cy="608.3" r="1.1"/>
<circle cx="490.80" cy="608.3" r="1.1"/>
<circle cx="472.10" cy="613.7" r="1.1"/>
<circle cx="474.30" cy="613.7" r="1.1"/>
<circle cx="476.50" cy="613.7" r="1.1"/>
<circle cx="478.70" cy="613.7" r="1.1"/>
<circle cx="480.90" cy="613.7" r="1.1"/>
<circle cx="483.10" cy="613.7" r="1.1"/>
<circle cx="485.30" cy="613.7" r="1.1"/>
<circle cx="487.50" cy="613.7" r="1.1"/>
<circle cx="476.50" cy="620.5" r="1.1"/>
<circle cx="478.70" cy="620.5" r="1.1"/>
<circle cx="480.90" cy="620.5" r="1.1"/>
<circle cx="483.10" cy="620.5" r="1.1"/>
<circle cx="475.40" cy="623.7" r="1.1"/>
<circle cx="477.60" cy="623.7" r="1.1"/>
<circle cx="479.80" cy="623.7" r="1.1"/>
<circle cx="482.00" cy="623.7" r="1.1"/>
<circle cx="484.20" cy="623.7" r="1.1"/>
<circle cx="478.70" cy="629" r="1.1"/>
<circle cx="480.90" cy="629" r="1.1"/>
<circle cx="479.80" cy="636" r="1.1"/>
<circle cx="479.80" cy="643.3" r="1.1"/>
<circle cx="479.80" cy="665.2" r="1.1"/>
<circle cx="541.30" cy="582.5" r="1.1"/>
<circle cx="540.20" cy="594.5" r="1.1"/>
<circle cx="542.40" cy="594.5" r="1.1"/>
<circle cx="536.90" cy="597" r="1.1"/>
<circle cx="539.10" cy="597" r="1.1"/>
<circle cx="541.30" cy="597" r="1.1"/>
<circle cx="543.50" cy="597" r="1.1"/>
<circle cx="545.70" cy="597" r="1.1"/>
<circle cx="538.00" cy="603.7" r="1.1"/>
<circle cx="540.20" cy="603.7" r="1.1"/>
<circle cx="542.40" cy="603.7" r="1.1"/>
<circle cx="544.60" cy="603.7" r="1.1"/>
<circle cx="529.20" cy="607.5" r="1.1"/>
<circle cx="531.40" cy="607.5" r="1.1"/>
<circle cx="533.60" cy="607.5" r="1.1"/>
<circle cx="535.80" cy="607.5" r="1.1"/>
<circle cx="538.00" cy="607.5" r="1.1"/>
<circle cx="540.20" cy="607.5" r="1.1"/>
<circle cx="542.40" cy="607.5" r="1.1"/>
<circle cx="544.60" cy="607.5" r="1.1"/>
<circle cx="546.80" cy="607.5" r="1.1"/>
<circle cx="549.00" cy="607.5" r="1.1"/>
<circle cx="551.20" cy="607.5" r="1.1"/>
<circle cx="553.40" cy="607.5" r="1.1"/>
<circle cx="536.90" cy="612.8" r="1.1"/>
<circle cx="539.10" cy="612.8" r="1.1"/>
<circle cx="541.30" cy="612.8" r="1.1"/>
<circle cx="543.50" cy="612.8" r="1.1"/>
<circle cx="545.70" cy="612.8" r="1.1"/>
<circle cx="539.10" cy="619.7" r="1.1"/>
<circle cx="541.30" cy="619.7" r="1.1"/>
<circle cx="543.50" cy="619.7" r="1.1"/>
<circle cx="536.90" cy="623.7" r="1.1"/>
<circle cx="539.10" cy="623.7" r="1.1"/>
<circle cx="541.30" cy="623.7" r="1.1"/>
<circle cx="543.50" cy="623.7" r="1.1"/>
<circle cx="545.70" cy="623.7" r="1.1"/>
<circle cx="539.10" cy="631.7" r="1.1"/>
<circle cx="541.30" cy="631.7" r="1.1"/>
<circle cx="543.50" cy="631.7" r="1.1"/>
<circle cx="541.30" cy="644.2" r="1.1"/>
<circle cx="603.00" cy="575" r="1.1"/>
<circle cx="603.00" cy="592" r="1.1"/>
<circle cx="597.50" cy="597.2" r="1.1"/>
<circle cx="599.70" cy="597.2" r="1.1"/>
<circle cx="601.90" cy="597.2" r="1.1"/>
<circle cx="604.10" cy="597.2" r="1.1"/>
<circle cx="606.30" cy="597.2" r="1.1"/>
<circle cx="608.50" cy="597.2" r="1.1"/>
<circle cx="596.40" cy="602.5" r="1.1"/>
<circle cx="598.60" cy="602.5" r="1.1"/>
<circle cx="600.80" cy="602.5" r="1.1"/>
<circle cx="603.00" cy="602.5" r="1.1"/>
<circle cx="605.20" cy="602.5" r="1.1"/>
<circle cx="607.40" cy="602.5" r="1.1"/>
<circle cx="609.60" cy="602.5" r="1.1"/>
<circle cx="588.70" cy="607.2" r="1.1"/>
<circle cx="590.90" cy="607.2" r="1.1"/>
<circle cx="593.10" cy="607.2" r="1.1"/>
<circle cx="595.30" cy="607.2" r="1.1"/>
<circle cx="597.50" cy="607.2" r="1.1"/>
<circle cx="599.70" cy="607.2" r="1.1"/>
<circle cx="601.90" cy="607.2" r="1.1"/>
<circle cx="604.10" cy="607.2" r="1.1"/>
<circle cx="606.30" cy="607.2" r="1.1"/>
<circle cx="608.50" cy="607.2" r="1.1"/>
<circle cx="610.70" cy="607.2" r="1.1"/>
<circle cx="612.90" cy="607.2" r="1.1"/>
<circle cx="615.10" cy="607.2" r="1.1"/>
<circle cx="617.30" cy="607.2" r="1.1"/>
<circle cx="597.50" cy="611.7" r="1.1"/>
<circle cx="599.70" cy="611.7" r="1.1"/>
<circle cx="601.90" cy="611.7" r="1.1"/>
<circle cx="604.10" cy="611.7" r="1.1"/>
<circle cx="606.30" cy="611.7" r="1.1"/>
<circle cx="608.50" cy="611.7" r="1.1"/>
<circle cx="599.70" cy="618.3" r="1.1"/>
<circle cx="601.90" cy="618.3" r="1.1"/>
<circle cx="604.10" cy="618.3" r="1.1"/>
<circle cx="606.30" cy="618.3" r="1.1"/>
<circle cx="603.00" cy="632.2" r="1.1"/>
<circle cx="603.00" cy="643.7" r="1.1"/>
<circle cx="603.00" cy="650.2" r="1.1"/>
<circle cx="603.00" cy="703" r="1.1"/>
</g>

<!-- ===== Panel c ===== -->
<text x="-1" y="770.8" font-size="20.5" fill="#000" stroke="#000" stroke-width="0.45">c</text>
<g stroke="#aaa" stroke-width="1.5" fill="none">
<line x1="54.6" y1="813.9" x2="652.9" y2="813.9"/>
<line x1="653.1" y1="781.2" x2="653.1" y2="935.6"/>
<line x1="54.6" y1="934.9" x2="653.1" y2="934.9"/>
<path d="M81.7 935v1.8M140.86 935v1.8M200.02 935v1.8M259.18 935v1.8M318.34 935v1.8M377.5 935v1.8M436.66 935v1.8M495.82 935v1.8M554.98 935v1.8M614.14 935v1.8" stroke-width="1"/>
<path d="M653.1 813.9h1.8M653.1 858.2h1.8M653.1 902.4h1.8" stroke-width="1"/>
</g>
<g stroke="#666" stroke-width="1" fill="none">
<line x1="54.6" y1="781.2" x2="54.6" y2="935.2"/>
<path d="M52.6 813.9h2M52.6 858.2h2M52.6 902.4h2"/>
</g>
<g font-size="10.4" fill="#222" text-anchor="end">
<text x="51.8" y="817.6">1.0</text>
<text x="51.8" y="862">0.8</text>
<text x="51.8" y="906.1">0.6</text>
</g>
<g font-size="10.4" fill="#222">
<text x="656.4" y="817.6">1.0</text>
<text x="656.4" y="862">0.8</text>
<text x="656.4" y="906.1">0.6</text>
</g>
<g font-size="10.4" fill="#222" text-anchor="middle">
<text x="81.7" y="945.6">10%</text>
<text x="140.86" y="945.6">20%</text>
<text x="200.02" y="945.6">30%</text>
<text x="259.18" y="945.6">40%</text>
<text x="318.34" y="945.6">50%</text>
<text x="377.5" y="945.6">60%</text>
<text x="436.66" y="945.6">70%</text>
<text x="495.82" y="945.6">80%</text>
<text x="554.98" y="945.6">90%</text>
<text x="614.14" y="945.6">100%</text>
</g>
<text x="354.1" y="957.7" font-size="12.4" fill="#111" text-anchor="middle">Tumor DNA (%)</text>
<text transform="translate(32.6 858) rotate(-90)" font-size="12.6" fill="#111" text-anchor="middle">correlation with SNP Array</text>
<text transform="translate(675 857.9) rotate(90)" font-size="12.6" fill="#111" text-anchor="middle">slope</text>
<g id="errs">
<line x1="82" y1="850.8" x2="82" y2="927.9" stroke="#000" stroke-width="1.9"/><circle cx="82" cy="880.6" r="3.7" fill="#000"/>
<line x1="140.7" y1="840.5" x2="140.7" y2="901.2" stroke="#000" stroke-width="1.9"/><circle cx="140.7" cy="863.1" r="3.7" fill="#000"/>
<line x1="200" y1="837.9" x2="200" y2="894.2" stroke="#000" stroke-width="1.9"/><circle cx="200" cy="858.7" r="3.7" fill="#000"/>
<line x1="259.2" y1="832.6" x2="259.2" y2="877.4" stroke="#000" stroke-width="1.9"/><circle cx="259.2" cy="849" r="3.7" fill="#000"/>
<line x1="318.4" y1="834.1" x2="318.4" y2="881.2" stroke="#000" stroke-width="1.9"/><circle cx="318.4" cy="851.2" r="3.7" fill="#000"/>
<line x1="377.3" y1="830.4" x2="377.3" y2="869.8" stroke="#000" stroke-width="1.9"/><circle cx="377.3" cy="844.2" r="3.7" fill="#000"/>
<line x1="436.4" y1="828.6" x2="436.4" y2="865.4" stroke="#000" stroke-width="1.9"/><circle cx="436.4" cy="842" r="3.7" fill="#000"/>
<line x1="495.8" y1="827.1" x2="495.8" y2="860.6" stroke="#000" stroke-width="1.9"/><circle cx="495.8" cy="838.7" r="3.7" fill="#000"/>
<line x1="555.0" y1="829.8" x2="555.0" y2="868.3" stroke="#000" stroke-width="1.9"/><circle cx="555.0" cy="843.4" r="3.7" fill="#000"/>
<line x1="614.1" y1="832" x2="614.1" y2="876" stroke="#000" stroke-width="1.9"/><circle cx="614.1" cy="848" r="3.7" fill="#000"/>
<line x1="93.6" y1="888.2" x2="93.6" y2="920" stroke="#f00" stroke-width="1.9"/><circle cx="93.6" cy="904" r="3.7" fill="#f00"/>
<line x1="152.5" y1="853" x2="152.5" y2="883.6" stroke="#f00" stroke-width="1.9"/><circle cx="152.5" cy="868.3" r="3.7" fill="#f00"/>
<line x1="211.9" y1="825.2" x2="211.9" y2="859.1" stroke="#f00" stroke-width="1.9"/><circle cx="211.9" cy="841.6" r="3.7" fill="#f00"/>
<line x1="271.1" y1="813.3" x2="271.1" y2="844.6" stroke="#f00" stroke-width="1.9"/><circle cx="271.1" cy="828.6" r="3.7" fill="#f00"/>
<line x1="330.2" y1="811.1" x2="330.2" y2="842.8" stroke="#f00" stroke-width="1.9"/><circle cx="330.2" cy="826.9" r="3.7" fill="#f00"/>
<line x1="389.1" y1="807.8" x2="389.1" y2="837.4" stroke="#f00" stroke-width="1.9"/><circle cx="389.1" cy="822.3" r="3.7" fill="#f00"/>
<line x1="448.2" y1="802.6" x2="448.2" y2="831" stroke="#f00" stroke-width="1.9"/><circle cx="448.2" cy="816.8" r="3.7" fill="#f00"/>
<line x1="507.6" y1="799" x2="507.6" y2="826" stroke="#f00" stroke-width="1.9"/><circle cx="507.6" cy="812.4" r="3.7" fill="#f00"/>
<line x1="566.6" y1="794.1" x2="566.6" y2="824.6" stroke="#f00" stroke-width="1.9"/><circle cx="566.6" cy="809.3" r="3.7" fill="#f00"/>
<line x1="625.8" y1="787.9" x2="625.8" y2="821.2" stroke="#f00" stroke-width="1.9"/><circle cx="625.8" cy="804.5" r="3.7" fill="#f00"/>
</g>
<circle cx="585.3" cy="904.1" r="4.4" fill="#000"/>
<circle cx="585.4" cy="914.3" r="4.4" fill="#f00"/>
<g font-size="10.25" fill="#111">
<text x="593.6" y="908">Correlation</text>
<text x="593.6" y="918.2">Slope</text>
</g>
</svg>
</body></html>
